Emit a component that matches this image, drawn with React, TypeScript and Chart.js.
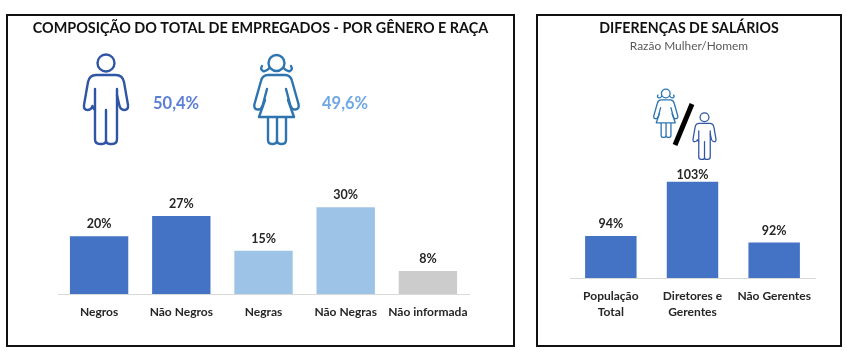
import React, { useEffect, useRef } from "react";
import { Chart, registerables } from "chart.js";

Chart.register(...registerables);

const FONT = "Lato, 'Open Sans', sans-serif";

const compositionTitle = "COMPOSIÇÃO DO TOTAL DE EMPREGADOS - POR GÊNERO E RAÇA";
const compositionLabels = ["Negros", "Não Negros", "Negras", "Não Negras", "Não informada"];
const compositionValues = [20, 27, 15, 30, 8];
const compositionColors = ["#4472C4", "#4472C4", "#9DC3E6", "#9DC3E6", "#CDCCCC"];

const salaryTitle = "DIFERENÇAS DE SALÁRIOS";
const salarySubtitle = "Razão Mulher/Homem";
const salaryLabels = [["População", "Total"], ["Diretores e", "Gerentes"], "Não Gerentes"];
const salaryValues = [93.6, 103.4, 92.4];
const salaryColors = ["#4472C4", "#4472C4", "#4472C4"];

const menShare = "50,4%";
const womenShare = "49,6%";

const valueLabels = {
  id: "valueLabels",
  afterDatasetsDraw(chart: any) {
    const { ctx, chartArea } = chart;
    const values = chart.data.datasets[0].data;
    ctx.save();
    ctx.font = `bold 12.5px ${FONT}`;
    ctx.fillStyle = "#262626";
    ctx.textAlign = "center";
    ctx.textBaseline = "middle";
    chart.getDatasetMeta(0).data.forEach((bar: any, i: number) => {
      // Labels stay inside the plot area, as a spreadsheet chart keeps them.
      const y = Math.max(bar.y - 12, chartArea.top + 2);
      ctx.fillText(`${Math.round(values[i])}%`, bar.x, y);
    });
    ctx.restore();
  },
};

function gutter(width: number, position: "left" | "right", min?: number, max?: number) {
  return {
    display: true,
    position,
    min,
    max,
    grid: { display: false, drawTicks: false },
    border: { display: false },
    ticks: { display: false },
    afterFit: (s: any) => {
      s.width = width;
    },
  };
}

function makeOptions(cfg: any) {
  return {
    responsive: false,
    animation: false as const,
    layout: { padding: 0 },
    plugins: {
      legend: { display: false },
      tooltip: { enabled: false },
      title: {
        display: true,
        text: cfg.title,
        color: "#111111",
        font: { family: FONT, size: cfg.titleSize, weight: "bold" as const, lineHeight: 1.2 },
        padding: cfg.titlePadding,
      },
      subtitle: cfg.subtitle
        ? {
            display: true,
            text: cfg.subtitle,
            color: "#595959",
            font: { family: FONT, size: 11.9, lineHeight: 1.2 },
            padding: cfg.subtitlePadding,
          }
        : { display: false },
    },
    scales: {
      x: {
        grid: { display: false, drawTicks: false },
        border: { color: "#D9D9D9", width: 1 },
        afterFit: (s: any) => {
          s.height = cfg.axisHeight;
        },
        ticks: {
          color: "#262626",
          padding: cfg.tickPadding,
          maxRotation: 0,
          autoSkip: false,
          font: { family: FONT, size: 12, weight: "bold" as const, lineHeight: 1.33 },
        },
      },
      y: gutter(cfg.left, "left", cfg.min, cfg.max),
      yRight: gutter(cfg.right, "right", cfg.min, cfg.max),
    },
  };
}

function Person({ kind, x, y, w, h, color, sw }: any) {
  return (
    <svg
      viewBox="0 0 46 92"
      style={{ position: "absolute", left: x, top: y, width: w, height: h, overflow: "visible" }}
      fill="none"
      stroke={color}
      strokeWidth={sw}
      strokeLinecap="round"
      strokeLinejoin="round"
    >
      {kind === "man" ? (
        <>
          <circle cx="23" cy="10" r="8.5" />
          <path d="M12 36 V86 Q12 91 17 91 H19 Q23 91 23 87 V57 M23 87 Q23 91 27 91 H29 Q34 91 34 86 V36" />
          <path d="M12 57 Q10 55 9.5 53 Q8 57 4.5 57 Q0.5 57 1 52 L5 29 Q6.5 22 13 22 H33 Q39.5 22 41 29 L45 52 Q45.5 57 41.5 57 Q38 57 36.5 53 L34 42" />
        </>
      ) : (
        <>
          <circle cx="23.5" cy="10" r="8" />
          <path d="M16.5 15 Q13 19 10 18 Q7 16.5 9 13 M30.5 15 Q34 19 37 18 Q40 16.5 38 13" />
          <path d="M6 64 H41 L35 47 M6 64 L12 47 M15 64 V87 Q15 91 19 91 H20 Q24 91 24 87 V64 M24 87 Q24 91 28 91 H29 Q33 91 33 87 V64" />
          <path d="M14 36 L9.5 53 Q8 57 4.5 56.5 Q0.5 56 1.5 51 L8 28 Q9.5 22 15 22 H32 Q37.5 22 39 28 L45.5 51 Q46.5 56 42.5 56.5 Q39 57 37.5 53 L33 36" />
        </>
      )}
    </svg>
  );
}

function Panel({ left, width }: { left: number; width: number }) {
  return (
    <div
      style={{
        position: "absolute",
        left,
        top: 14,
        width,
        height: 333,
        boxSizing: "border-box",
        border: "2px solid #111111",
      }}
    />
  );
}

function ShareText({ text, x, color }: { text: string; x: number; color: string }) {
  return (
    <div
      style={{
        position: "absolute",
        left: x,
        top: 92,
        font: `bold 16.5px/22px ${FONT}`,
        color,
      }}
    >
      {text}
    </div>
  );
}

export default function App() {
  const leftRef = useRef<HTMLCanvasElement>(null);
  const rightRef = useRef<HTMLCanvasElement>(null);

  useEffect(() => {
    const left = new Chart(leftRef.current!, {
      type: "bar",
      data: {
        labels: compositionLabels,
        datasets: [
          {
            data: compositionValues,
            backgroundColor: compositionColors,
            categoryPercentage: 1,
            barPercentage: 0.71,
          },
        ],
      },
      options: makeOptions({
        left: 50,
        right: 44,
        title: compositionTitle,
        titleSize: 14.4,
        titlePadding: { top: 4, bottom: 152.7 },
        axisHeight: 51,
        tickPadding: 10,
        min: 0,
        max: 36,
      }) as any,
      plugins: [valueLabels],
    });
    const right = new Chart(rightRef.current!, {
      type: "bar",
      data: {
        labels: salaryLabels as any,
        datasets: [
          {
            data: salaryValues,
            backgroundColor: salaryColors,
            categoryPercentage: 1,
            barPercentage: 0.63,
          },
        ],
      },
      options: makeOptions({
        left: 32,
        right: 25,
        title: salaryTitle,
        titleSize: 14.2,
        titlePadding: { top: 4, bottom: 2 },
        subtitle: salarySubtitle,
        subtitlePadding: { top: 0, bottom: 119.5 },
        axisHeight: 67,
        tickPadding: 10,
        min: 86,
        max: 105,
      }) as any,
      plugins: [valueLabels],
    });
    return () => {
      left.destroy();
      right.destroy();
    };
  }, []);

  return (
    <div style={{ position: "fixed", left: 0, top: 0, width: 847, height: 355, background: "#fff", overflow: "hidden" }}>
      <canvas ref={leftRef} width={505} height={329} style={{ position: "absolute", left: 8, top: 16, display: "block" }} />
      <canvas ref={rightRef} width={302} height={329} style={{ position: "absolute", left: 538, top: 16, display: "block" }} />
      <Panel left={6} width={509} />
      <Panel left={536} width={306} />
      <Person kind="man" x={83} y={53} w={46} h={92} color="#2F55A4" sw={2.4} />
      <Person kind="woman" x={253} y={53} w={46} h={92} color="#2E75B0" sw={2.4} />
      <ShareText text={menShare} x={153} color="#5B7FD6" />
      <ShareText text={womenShare} x={322} color="#6FA8E4" />
      <Person kind="woman" x={653} y={88} w={25} h={50} color="#2E75B0" sw={2.4} />
      <Person kind="man" x={692} y={112} w={25} h={48} color="#2F55A4" sw={2.4} />
      <svg style={{ position: "absolute", left: 0, top: 0, width: 847, height: 355, pointerEvents: "none" }}>
        <line x1="692" y1="104" x2="675" y2="145" stroke="#000" strokeWidth="5" />
      </svg>
    </div>
  );
}
